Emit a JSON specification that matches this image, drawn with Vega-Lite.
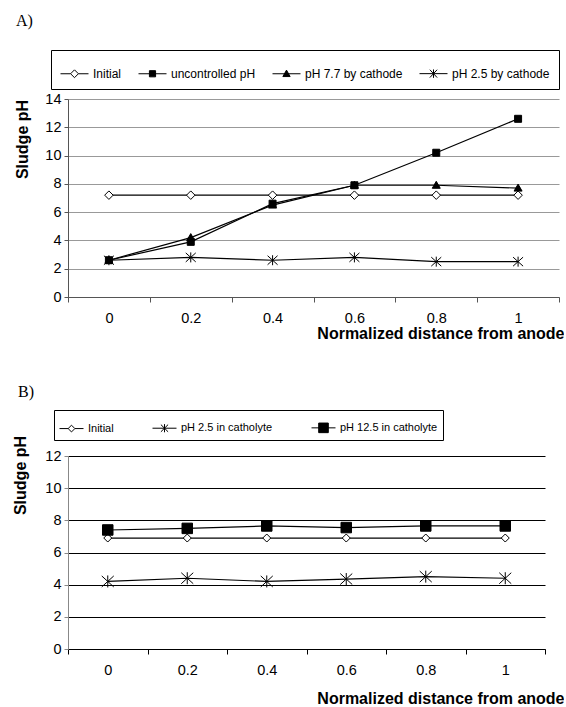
{
  "$schema": "https://vega.github.io/schema/vega-lite/v6.json",
  "background": "white",
  "padding": {"left": 11, "top": 12, "right": 0, "bottom": 0},
  "spacing": 42,
  "resolve": {"scale": {"shape": "independent", "fill": "independent", "stroke": "independent", "x": "independent", "y": "independent"}, "legend": {"shape": "independent", "fill": "independent", "stroke": "independent"}},
  "config": {
    "font": "Liberation Sans",
    "view": {"stroke": null},
    "axis": {"labelFont": "Liberation Sans", "labelFontSize": 14.5, "labelColor": "black", "titleFont": "Liberation Sans", "titleFontSize": 16, "titleFontWeight": "bold", "titleColor": "black"},
    "title": {"font": "Liberation Serif", "fontSize": 16, "fontWeight": "normal", "color": "black", "anchor": "start", "frame": "group"}
  },
  "vconcat": [
    {
      "title": {"text": "A)", "dx": -52, "offset": 21},
      "width": 491,
      "height": 198,
      "data": {"values": [
        {"d": "0", "s": "Initial", "v": 7.2}, {"d": "0.2", "s": "Initial", "v": 7.2}, {"d": "0.4", "s": "Initial", "v": 7.2}, {"d": "0.6", "s": "Initial", "v": 7.2}, {"d": "0.8", "s": "Initial", "v": 7.2}, {"d": "1", "s": "Initial", "v": 7.2},
        {"d": "0", "s": "uncontrolled pH", "v": 2.6}, {"d": "0.2", "s": "uncontrolled pH", "v": 3.9}, {"d": "0.4", "s": "uncontrolled pH", "v": 6.6}, {"d": "0.6", "s": "uncontrolled pH", "v": 7.9}, {"d": "0.8", "s": "uncontrolled pH", "v": 10.2}, {"d": "1", "s": "uncontrolled pH", "v": 12.6},
        {"d": "0", "s": "pH 7.7 by cathode", "v": 2.6}, {"d": "0.2", "s": "pH 7.7 by cathode", "v": 4.2}, {"d": "0.4", "s": "pH 7.7 by cathode", "v": 6.5}, {"d": "0.6", "s": "pH 7.7 by cathode", "v": 7.9}, {"d": "0.8", "s": "pH 7.7 by cathode", "v": 7.9}, {"d": "1", "s": "pH 7.7 by cathode", "v": 7.7},
        {"d": "0", "s": "pH 2.5 by cathode", "v": 2.6}, {"d": "0.2", "s": "pH 2.5 by cathode", "v": 2.8}, {"d": "0.4", "s": "pH 2.5 by cathode", "v": 2.6}, {"d": "0.6", "s": "pH 2.5 by cathode", "v": 2.8}, {"d": "0.8", "s": "pH 2.5 by cathode", "v": 2.5}, {"d": "1", "s": "pH 2.5 by cathode", "v": 2.5}
      ]},
      "encoding": {
        "x": {"field": "d", "type": "ordinal", "sort": ["0", "0.2", "0.4", "0.6", "0.8", "1"], "bandPosition": 0.5,
          "scale": {"type": "band", "paddingInner": 0, "paddingOuter": 0},
          "axis": {"tickBand": "extent", "labelAngle": 0, "domainColor": "#555", "tickColor": "#555", "tickSize": 5, "labelPadding": 9, "title": "Normalized distance from anode", "titleX": 496, "titleY": 41, "titleAlign": "right", "titleBaseline": "alphabetic"}},
        "y": {"field": "v", "type": "quantitative", "scale": {"domain": [0, 14]},
          "axis": {"values": [0, 2, 4, 6, 8, 10, 12, 14], "grid": true, "gridColor": "#999", "domainColor": "#555", "tickColor": "#555", "tickSize": 4, "labelPadding": 3, "title": "Sludge pH", "titleX": -46, "titleY": 40, "titleAngle": -90, "titleAlign": "center", "titleBaseline": "middle"}}
      },
      "resolve": {"scale": {"shape": "independent", "fill": "independent", "stroke": "independent"}, "legend": {"shape": "independent", "fill": "independent", "stroke": "independent"}},
      "layer": [
        {"mark": {"type": "line", "color": "black", "strokeWidth": 1.2},
         "encoding": {"detail": {"field": "s"}}},
        {"mark": {"type": "point", "filled": true, "stroke": "black", "strokeWidth": 1, "size": 100, "opacity": 1},
         "encoding": {
           "shape": {"field": "s", "type": "nominal", "legend": null,
             "scale": {"domain": ["pH 2.5 by cathode", "pH 7.7 by cathode", "uncontrolled pH", "Initial"],
               "range": ["M-1,-0.9L1,0.9M-1,0.9L1,-0.9M0,-1V1", "M0,-0.8L0.8,0.6L-0.8,0.6Z", "M-0.7,-0.7H0.7V0.7H-0.7Z", "M0,-0.85L0.85,0L0,0.85L-0.85,0Z"]}},
           "fill": {"field": "s", "type": "nominal", "legend": null,
             "scale": {"domain": ["uncontrolled pH", "Initial", "pH 7.7 by cathode", "pH 2.5 by cathode"], "range": ["black", "white", "black", "black"]}}
         }},
        {"transform": [{"filter": "false"}],
         "mark": {"type": "point", "filled": true, "stroke": "black", "strokeWidth": 1, "opacity": 1},
         "encoding": {
           "shape": {"field": "s", "type": "nominal",
             "scale": {"domain": ["Initial", "uncontrolled pH", "pH 7.7 by cathode", "pH 2.5 by cathode"],
               "range": ["M-1,0H-0.28M0.28,0H1M-0.28,0L0,-0.28L0.28,0L0,0.28Z", "M-1,0H1M-0.22,-0.22H0.22V0.22H-0.22Z", "M-1,0H1M-0.26,0.2L0,-0.26L0.26,0.2Z", "M-1,0H1M-0.26,-0.28L0.26,0.28M-0.26,0.28L0.26,-0.28M0,-0.3V0.3"]},
             "legend": {"title": null, "orient": "none", "legendX": -17, "legendY": -49, "direction": "horizontal", "columns": 4,
               "strokeColor": "black", "fillColor": "white", "padding": 9, "columnPadding": 14,
               "symbolSize": 784, "symbolStrokeWidth": 1, "symbolOpacity": 1, "symbolStrokeColor": "black",
               "labelFontSize": 12, "labelFont": "Liberation Sans", "labelColor": "black", "labelOffset": 4, "labelLimit": 300}},
           "fill": {"field": "s", "type": "nominal",
             "scale": {"domain": ["Initial", "uncontrolled pH", "pH 7.7 by cathode", "pH 2.5 by cathode"], "range": ["white", "black", "black", "black"]},
             "legend": {"title": null, "orient": "none", "legendX": -17, "legendY": -49, "direction": "horizontal", "columns": 4,
               "strokeColor": "black", "fillColor": "white", "padding": 9, "columnPadding": 14,
               "symbolSize": 784, "symbolStrokeWidth": 1, "symbolOpacity": 1, "symbolStrokeColor": "black",
               "labelFontSize": 12, "labelFont": "Liberation Sans", "labelColor": "black", "labelOffset": 4, "labelLimit": 300}},
           "stroke": {"field": "s", "type": "nominal",
             "scale": {"domain": ["Initial", "uncontrolled pH", "pH 7.7 by cathode", "pH 2.5 by cathode"], "range": ["black", "black", "black", "black"]},
             "legend": {"title": null, "orient": "none", "legendX": -17, "legendY": -49, "direction": "horizontal", "columns": 4,
               "strokeColor": "black", "fillColor": "white", "padding": 9, "columnPadding": 14,
               "symbolSize": 784, "symbolStrokeWidth": 1, "symbolOpacity": 1, "symbolStrokeColor": "black",
               "labelFontSize": 12, "labelFont": "Liberation Sans", "labelColor": "black", "labelOffset": 4, "labelLimit": 300}}
         }}
      ]
    },
    {
      "title": {"text": "B)", "dx": -50, "offset": 10},
      "width": 477,
      "height": 193,
      "data": {"values": [
        {"d": "0", "s": "Initial", "v": 6.9}, {"d": "0.2", "s": "Initial", "v": 6.9}, {"d": "0.4", "s": "Initial", "v": 6.9}, {"d": "0.6", "s": "Initial", "v": 6.9}, {"d": "0.8", "s": "Initial", "v": 6.9}, {"d": "1", "s": "Initial", "v": 6.9},
        {"d": "0", "s": "pH 2.5 in catholyte", "v": 4.2}, {"d": "0.2", "s": "pH 2.5 in catholyte", "v": 4.4}, {"d": "0.4", "s": "pH 2.5 in catholyte", "v": 4.2}, {"d": "0.6", "s": "pH 2.5 in catholyte", "v": 4.35}, {"d": "0.8", "s": "pH 2.5 in catholyte", "v": 4.5}, {"d": "1", "s": "pH 2.5 in catholyte", "v": 4.4},
        {"d": "0", "s": "pH 12.5 in catholyte", "v": 7.4}, {"d": "0.2", "s": "pH 12.5 in catholyte", "v": 7.5}, {"d": "0.4", "s": "pH 12.5 in catholyte", "v": 7.65}, {"d": "0.6", "s": "pH 12.5 in catholyte", "v": 7.55}, {"d": "0.8", "s": "pH 12.5 in catholyte", "v": 7.65}, {"d": "1", "s": "pH 12.5 in catholyte", "v": 7.65}
      ]},
      "encoding": {
        "x": {"field": "d", "type": "ordinal", "sort": ["0", "0.2", "0.4", "0.6", "0.8", "1"], "bandPosition": 0.5,
          "scale": {"type": "band", "paddingInner": 0, "paddingOuter": 0},
          "axis": {"tickBand": "extent", "labelAngle": 0, "domainColor": "black", "tickColor": "black", "tickSize": 5, "labelPadding": 9, "title": "Normalized distance from anode", "titleX": 496, "titleY": 54, "titleAlign": "right", "titleBaseline": "alphabetic"}},
        "y": {"field": "v", "type": "quantitative", "scale": {"domain": [0, 12]},
          "axis": {"values": [0, 2, 4, 6, 8, 10, 12], "grid": true, "gridColor": "black", "domainColor": "#888", "tickColor": "#888", "tickSize": 4, "labelPadding": 3, "title": "Sludge pH", "titleX": -48, "titleY": 19, "titleAngle": -90, "titleAlign": "center", "titleBaseline": "middle"}}
      },
      "resolve": {"scale": {"shape": "independent", "fill": "independent", "stroke": "independent"}, "legend": {"shape": "independent", "fill": "independent", "stroke": "independent"}},
      "layer": [
        {"mark": {"type": "line", "color": "black", "strokeWidth": 1.2},
         "encoding": {"detail": {"field": "s"}}},
        {"mark": {"type": "point", "filled": true, "stroke": "black", "strokeWidth": 1, "size": 100, "opacity": 1},
         "encoding": {
           "shape": {"field": "s", "type": "nominal", "legend": null,
             "scale": {"domain": ["pH 12.5 in catholyte", "pH 2.5 in catholyte", "Initial"],
               "range": ["M-1.05,-1.05H1.05V1.05H-1.05Z", "M-1.2,-1.1L1.2,1.1M-1.2,1.1L1.2,-1.1M0,-1.2V1.2", "M0,-0.8L0.8,0L0,0.8L-0.8,0Z"]}},
           "fill": {"field": "s", "type": "nominal", "legend": null,
             "scale": {"domain": ["pH 2.5 in catholyte", "Initial", "pH 12.5 in catholyte"], "range": ["black", "white", "black"]}}
         }},
        {"transform": [{"filter": "false"}],
         "mark": {"type": "point", "filled": true, "stroke": "black", "strokeWidth": 1, "opacity": 1},
         "encoding": {
           "shape": {"field": "s", "type": "nominal",
             "scale": {"domain": ["Initial", "pH 2.5 in catholyte", "pH 12.5 in catholyte"],
               "range": ["M-1,0H-0.28M0.28,0H1M-0.28,0L0,-0.28L0.28,0L0,0.28Z", "M-1,0H1M-0.3,-0.3L0.3,0.3M-0.3,0.3L0.3,-0.3M0,-0.34V0.34", "M-1,0H1M-0.4,-0.4H0.4V0.4H-0.4Z"]},
             "legend": {"title": null, "orient": "none", "legendX": -14, "legendY": -46, "direction": "horizontal", "columns": 3,
               "strokeColor": "black", "fillColor": "white", "padding": 5, "columnPadding": 36,
               "symbolSize": 576, "symbolStrokeWidth": 1, "symbolOpacity": 1, "symbolStrokeColor": "black",
               "labelFontSize": 11, "labelFont": "Liberation Sans", "labelColor": "black", "labelOffset": 4, "labelLimit": 300}},
           "fill": {"field": "s", "type": "nominal",
             "scale": {"domain": ["Initial", "pH 2.5 in catholyte", "pH 12.5 in catholyte"], "range": ["white", "black", "black"]},
             "legend": {"title": null, "orient": "none", "legendX": -14, "legendY": -46, "direction": "horizontal", "columns": 3,
               "strokeColor": "black", "fillColor": "white", "padding": 5, "columnPadding": 36,
               "symbolSize": 576, "symbolStrokeWidth": 1, "symbolOpacity": 1, "symbolStrokeColor": "black",
               "labelFontSize": 11, "labelFont": "Liberation Sans", "labelColor": "black", "labelOffset": 4, "labelLimit": 300}},
           "stroke": {"field": "s", "type": "nominal",
             "scale": {"domain": ["Initial", "pH 2.5 in catholyte", "pH 12.5 in catholyte"], "range": ["black", "black", "black"]},
             "legend": {"title": null, "orient": "none", "legendX": -14, "legendY": -46, "direction": "horizontal", "columns": 3,
               "strokeColor": "black", "fillColor": "white", "padding": 5, "columnPadding": 36,
               "symbolSize": 576, "symbolStrokeWidth": 1, "symbolOpacity": 1, "symbolStrokeColor": "black",
               "labelFontSize": 11, "labelFont": "Liberation Sans", "labelColor": "black", "labelOffset": 4, "labelLimit": 300}}
         }}
      ]
    }
  ]
}
